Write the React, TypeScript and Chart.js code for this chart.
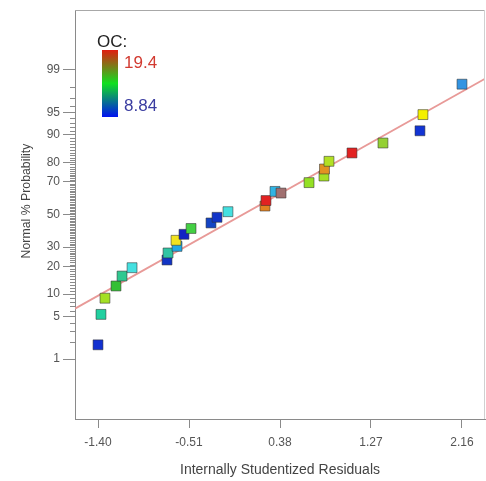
import React, { useEffect, useRef } from "react";
import { Chart, registerables } from "chart.js";

Chart.register(...registerables);

// ---- data ----
const residuals = [
  -1.4, -1.371, -1.332, -1.224, -1.165, -1.067, -0.725, -0.715, -0.627, -0.637,
  -0.559, -0.49, -0.295, -0.236, -0.129, 0.233, 0.243, 0.331, 0.39, 0.664,
  0.81, 0.815, 0.859, 1.084, 1.387, 1.749, 1.778, 2.16,
];
const probabilityPct = [
  1.8, 5.4, 8.9, 12.5, 16.1, 19.6, 23.2, 26.8, 30.4, 33.9, 37.5, 41.1, 44.6,
  48.2, 51.8, 55.4, 58.9, 64.5, 63.5, 69.6, 73.2, 76.8, 80.4, 83.9, 87.5, 91.1,
  94.6, 98.2,
];
const pointColors = [
  "#1230d0", "#22d0a0", "#a4e024", "#34c034", "#30c890", "#44e0e0", "#1234c4",
  "#30c4a4", "#22a8e4", "#f2e220", "#1222c4", "#44d044", "#1444c4", "#1234c8",
  "#44e0e0", "#e28222", "#e22222", "#30b4e4", "#a07070", "#94e024", "#a4e024",
  "#e29222", "#b2e024", "#e22222", "#94d034", "#1234d4", "#f4f000", "#3294e2",
];
const fitLineX = [-1.625, 2.385];
const fitLinePct = [6.5, 98.55];
const xTicks = [-1.4, -0.51, 0.38, 1.27, 2.16];
const yTickPct = [1, 5, 10, 20, 30, 50, 70, 80, 90, 95, 99];
const yMinorPct = Array.from({ length: 99 }, (_, i) => i + 1).filter(
  (p) => !yTickPct.includes(p)
);
const xRange = [-1.625, 2.385];
const yRangePct = [0.05, 99.95];
const xTitle = "Internally Studentized Residuals";
const yTitle = "Normal % Probability";
const legendTitle = "OC:";
const legendMax = "19.4";
const legendMin = "8.84";

// inverse normal CDF (probability scale transform)
function probit(p: number): number {
  const a = [-3.969683028665376e1, 2.209460984245205e2, -2.759285104469687e2, 1.38357751867269e2, -3.066479806614716e1, 2.506628277459239];
  const b = [-5.447609879822406e1, 1.615858368580409e2, -1.556989798598866e2, 6.680131188771972e1, -1.328068155288572e1];
  const c = [-7.784894002430293e-3, -3.223964580411365e-1, -2.400758277161838, -2.549732539343734, 4.374664141464968, 2.938163982698783];
  const d = [7.784695709041462e-3, 3.224671290700398e-1, 2.445134137142996, 3.754408661907416];
  const pl = 0.02425;
  const ph = 1 - pl;
  let q: number, r: number;
  if (p < pl) {
    q = Math.sqrt(-2 * Math.log(p));
    return (((((c[0] * q + c[1]) * q + c[2]) * q + c[3]) * q + c[4]) * q + c[5]) / ((((d[0] * q + d[1]) * q + d[2]) * q + d[3]) * q + 1);
  }
  if (p <= ph) {
    q = p - 0.5;
    r = q * q;
    return ((((((a[0] * r + a[1]) * r + a[2]) * r + a[3]) * r + a[4]) * r + a[5]) * q) / (((((b[0] * r + b[1]) * r + b[2]) * r + b[3]) * r + b[4]) * r + 1);
  }
  q = Math.sqrt(-2 * Math.log(1 - p));
  return -(((((c[0] * q + c[1]) * q + c[2]) * q + c[3]) * q + c[4]) * q + c[5]) / ((((d[0] * q + d[1]) * q + d[2]) * q + d[3]) * q + 1);
}

const FONT = "'Liberation Sans', Arial, sans-serif";

const decorPlugin = {
  id: "decor",
  afterDraw(chart: any) {
    const { ctx, chartArea, scales } = chart;
    const ys = scales.y;
    ctx.save();
    // top & right border
    ctx.strokeStyle = "#a8a8a8";
    ctx.lineWidth = 1;
    ctx.beginPath();
    ctx.moveTo(chartArea.left, chartArea.top + 0.5);
    ctx.lineTo(chartArea.right, chartArea.top + 0.5);
    ctx.stroke();
    ctx.strokeStyle = "#d0d0d0";
    ctx.beginPath();
    ctx.moveTo(chartArea.right - 0.5, chartArea.top);
    ctx.lineTo(chartArea.right - 0.5, chartArea.bottom);
    ctx.stroke();
    // minor ticks on y axis
    ctx.strokeStyle = "#8a8a8a";
    ctx.beginPath();
    for (const p of yMinorPct) {
      const y = Math.round(ys.getPixelForValue(probit(p / 100))) + 0.5;
      ctx.moveTo(chartArea.left - 5, y);
      ctx.lineTo(chartArea.left, y);
    }
    ctx.stroke();
    // y axis title
    ctx.save();
    ctx.translate(27, 201);
    ctx.rotate(-Math.PI / 2);
    ctx.textAlign = "center";
    ctx.textBaseline = "middle";
    ctx.font = `12.3px ${FONT}`;
    ctx.fillStyle = "#444444";
    ctx.fillText(yTitle, 0, 0);
    ctx.restore();
    // colour legend
    const bx = 102, by = 50, bw = 16, bh = 67;
    const g = ctx.createLinearGradient(0, by, 0, by + bh);
    g.addColorStop(0, "#e01e10");
    g.addColorStop(0.5, "#10e020");
    g.addColorStop(1, "#0012f0");
    ctx.fillStyle = g;
    ctx.fillRect(bx, by, bw, bh);
    ctx.textBaseline = "alphabetic";
    ctx.textAlign = "left";
    ctx.font = `17px ${FONT}`;
    ctx.fillStyle = "#222222";
    ctx.fillText(legendTitle, 97, 47);
    ctx.font = `17px ${FONT}`;
    ctx.fillStyle = "#d23a30";
    ctx.fillText(legendMax, 124, 68);
    ctx.fillStyle = "#3a3ca0";
    ctx.fillText(legendMin, 124, 111);
    ctx.restore();
  },
};

export default function App() {
  const ref = useRef<HTMLCanvasElement | null>(null);
  useEffect(() => {
    document.body.style.margin = "0";
    const canvas = ref.current;
    if (!canvas) return;
    const points = residuals.map((x, i) => ({ x, y: probit(probabilityPct[i] / 100) }));
    const line = fitLineX.map((x, i) => ({ x, y: probit(fitLinePct[i] / 100) }));
    const chart = new Chart(canvas, {
      type: "scatter",
      data: {
        datasets: [
          {
            type: "scatter",
            data: points,
            pointStyle: "rect",
            pointRadius: 7,
            pointHoverRadius: 7,
            backgroundColor: pointColors,
            borderColor: "rgba(50,50,50,0.55)",
            borderWidth: 1,
            order: 1,
          } as any,
          {
            type: "line",
            data: line,
            borderColor: "#e89a98",
            borderWidth: 1.8,
            pointRadius: 0,
            fill: false,
            order: 2,
          } as any,
        ],
      },
      plugins: [decorPlugin],
      options: {
        animation: false,
        responsive: false,
        devicePixelRatio: 1,
        layout: { autoPadding: false, padding: { top: 10, right: 1, left: 0, bottom: 0 } },
        plugins: { legend: { display: false }, tooltip: { enabled: false } },
        scales: {
          x: {
            type: "linear",
            min: xRange[0],
            max: xRange[1],
            afterBuildTicks: (s: any) => {
              s.ticks = xTicks.map((v) => ({ value: v }));
            },
            afterFit: (s: any) => {
              s.height = 62;
              s.paddingLeft = 0;
              s.paddingRight = 0;
            },
            grid: { drawOnChartArea: false, drawTicks: true, tickLength: 9, tickColor: "#8a8a8a" },
            border: { display: true, color: "#8a8a8a", width: 1 },
            ticks: {
              autoSkip: false,
              maxRotation: 0,
              padding: 7,
              color: "#555555",
              font: { family: FONT, size: 12 },
              callback: (v: any) => Number(v).toFixed(2),
            },
            title: {
              display: true,
              text: xTitle,
              color: "#444444",
              font: { family: FONT, size: 14 },
              padding: { top: 0, bottom: 2 },
            },
          },
          y: {
            type: "linear",
            min: probit(yRangePct[0] / 100),
            max: probit(yRangePct[1] / 100),
            afterBuildTicks: (s: any) => {
              s.ticks = yTickPct.map((p) => ({ value: probit(p / 100) }));
            },
            afterFit: (s: any) => {
              s.width = 75;
              s.paddingTop = 0;
              s.paddingBottom = 0;
            },
            grid: { drawOnChartArea: false, drawTicks: true, tickLength: 12, tickColor: "#8a8a8a" },
            border: { display: true, color: "#8a8a8a", width: 1 },
            ticks: {
              autoSkip: false,
              padding: 3,
              color: "#555555",
              font: { family: FONT, size: 12 },
              callback: (_v: any, i: number) => String(yTickPct[i]),
            },
            title: { display: false },
          },
        },
      } as any,
    });
    return () => chart.destroy();
  }, []);
  return (
    <div style={{ width: 486, height: 481 }}>
      <canvas ref={ref} width={486} height={481} style={{ display: "block" }} />
    </div>
  );
}
